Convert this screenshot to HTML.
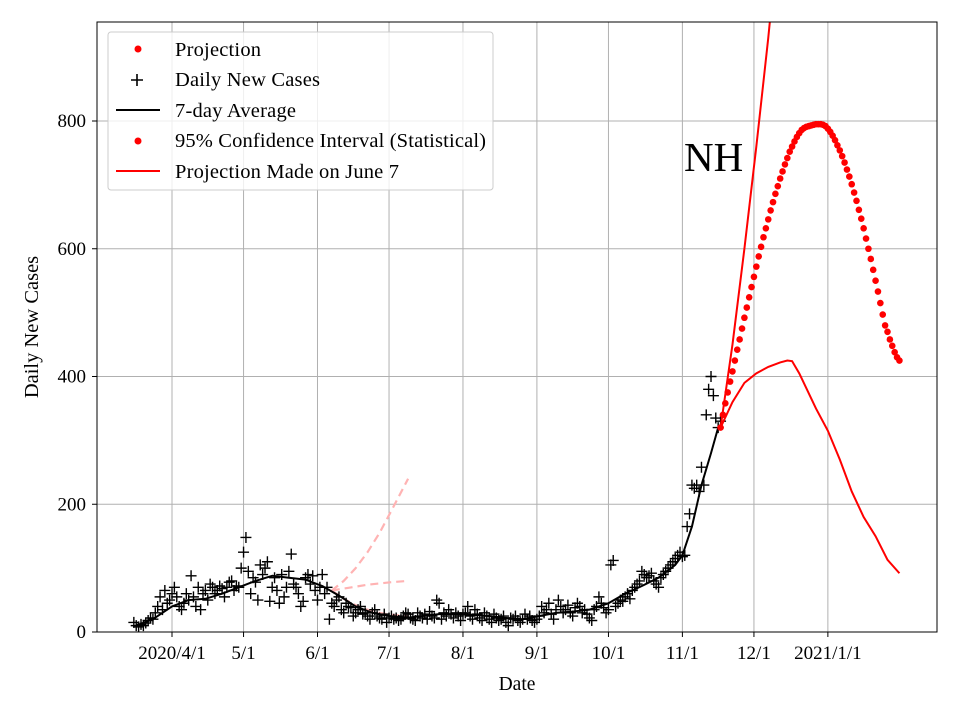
<!DOCTYPE html>
<html><head><meta charset="utf-8"><style>
html,body{margin:0;padding:0;background:#fff;}
svg{display:block;font-family:"Liberation Serif",serif;}
</style></head><body>
<svg id="chart" width="960" height="720" viewBox="0 0 960 720" xmlns="http://www.w3.org/2000/svg">
<g id="grid"></g>
<g id="marks" clip-path="url(#clip)"></g>
<defs><clipPath id="clip"><rect x="97" y="22" width="840" height="610"/></clipPath></defs>
<rect x="97" y="22" width="840" height="610" fill="none" stroke="#000" stroke-width="1"/>
<g id="axes"></g>
<text x="684" y="171" font-size="41">NH</text>
<text x="517" y="690" font-size="19.5" text-anchor="middle">Date</text>
<text transform="translate(38,327) rotate(-90)" font-size="20.5" text-anchor="middle">Daily New Cases</text>
<g>
<rect x="108" y="32" width="385" height="158" rx="3" fill="#fff" fill-opacity="0.8" stroke="#ccc"/>
<circle cx="138" cy="49" r="3.5" fill="red"/>
<text x="175" y="56" font-size="20.5" textLength="86">Projection</text>
<path d="M131 80h12M137 74v12" stroke="#000" stroke-width="1.6"/>
<text x="175" y="86" font-size="20.5" textLength="145">Daily New Cases</text>
<line x1="116" y1="110" x2="160" y2="110" stroke="#000" stroke-width="2"/>
<text x="175" y="117" font-size="20.5" textLength="121">7-day Average</text>
<circle cx="138" cy="141" r="3.5" fill="red"/>
<text x="175" y="147" font-size="20.5" textLength="311">95% Confidence Interval (Statistical)</text>
<line x1="116" y1="171" x2="160" y2="171" stroke="red" stroke-width="2"/>
<text x="175" y="178" font-size="20.5" textLength="224">Projection Made on June 7</text>
</g>
</svg>
<script>
// day index 0 = 2020/4/1
const xTickDays=[0,30,61,91,122,153,183,214,244,275];
const xTickLabels=["2020/4/1","5/1","6/1","7/1","8/1","9/1","10/1","11/1","12/1","2021/1/1"];
const yTicks=[0,200,400,600,800];
const dailyStart=-16;
const daily=[15,10,8,12,10,14,18,22,20,30,40,55,35,65,45,50,
60,70,55,40,35,45,60,50,88,55,40,70,35,60,65,50,75,70,60,65,72,68,55,70,78,80,65,72,70,100,
125,148,95,60,85,78,50,105,90,100,110,48,70,85,65,45,90,55,70,95,122,75,70,60,40,48,85,90,75,88,65,
50,70,90,60,70,20,45,40,50,55,35,30,45,40,38,25,30,35,40,28,30,25,20,30,35,25,22,20,28,15,22,
25,20,22,18,20,25,30,28,22,20,18,30,25,22,28,20,32,25,22,50,45,20,30,25,35,28,22,30,25,18,28,
30,40,25,20,35,28,22,18,30,25,20,15,28,22,18,20,25,15,10,22,20,25,18,15,20,28,20,25,18,15,20,
25,40,30,35,45,28,20,35,50,40,30,35,42,30,25,38,45,40,30,35,28,22,18,35,40,55,45,38,30,35,
105,112,40,45,50,48,55,60,52,65,70,75,80,95,90,85,88,92,80,75,70,85,90,95,100,105,110,115,120,125,118,
120,165,185,230,225,230,220,258,230,340,380,400,370,335,320,330];
const avgDays=[-15,-8,0,7,14,21,28,35,42,49,56,63,70,77,84,91,98,105,112,119,126,133,140,147,154,161,168,175,183,190,197,204,211,214,218,222,226,229];
const avgVals=[10,20,40,50,52,60,70,80,88,85,82,72,57,40,30,25,22,25,28,28,27,25,22,20,25,30,32,35,45,60,72,85,105,120,165,230,280,320];
const projStart=230;
const projection=[320,340,358,375,392,408,425,442,458,475,492,508,524,540,556,572,588,603,618,632,646,660,673,686,698,710,721,732,742,752,760,768,775,781,786,789,791,792,793,794,795,795,795,794,792,788,783,777,770,762,754,745,735,724,713,701,688,675,661,647,632,616,600,584,567,550,533,515,497,480,470,458,448,438,430,425];
const upperDays=[0,5,10,15,20,25];
const upperVals=[320,450,600,760,930,1120];
const lowerDays=[0,5,10,15,20,25,28,30,33,40,45,50,55,60,65,70,75];
const lowerVals=[320,360,390,405,415,422,425,424,405,350,315,270,220,180,150,113,92];
const pinkDays=[67,72,77,82,87,92,99];
const pinkHigh=[65,80,100,125,155,190,240];
const pinkMid=[65,68,71,74,76,78,80];
const pinkLow=[65,52,42,35,30,27,25];

const X=d=>172+d*2.385, Y=v=>632-v*0.63875;
const NS="http://www.w3.org/2000/svg";
function mk(tag,attrs,parent){const e=document.createElementNS(NS,tag);for(const k in attrs)e.setAttribute(k,attrs[k]);parent.appendChild(e);return e;}
const grid=document.getElementById('grid'),axes=document.getElementById('axes'),marks=document.getElementById('marks');
xTickDays.forEach((d,i)=>{
  const l=mk('line',{x1:X(d),x2:X(d),y1:22,y2:632,stroke:'#b0b0b0','stroke-width':1},grid);
  
  const t=mk('line',{x1:X(d),x2:X(d),y1:632,y2:637,stroke:'#000'},axes);
  
  const tx=mk('text',{x:X(d),y:659,'font-size':19,'text-anchor':'middle'},axes);tx.textContent=xTickLabels[i];
  
});
yTicks.forEach(v=>{
  const l=mk('line',{x1:97,x2:937,y1:Y(v),y2:Y(v),stroke:'#b0b0b0','stroke-width':1},grid);
  
  const t=mk('line',{x1:92,x2:97,y1:Y(v),y2:Y(v),stroke:'#000'},axes);
  
  const tx=mk('text',{x:86,y:Y(v)+6,'font-size':19,'text-anchor':'end'},axes);tx.textContent=v;
  
});
function poly(days,vals,style,name){
  const p=mk('polyline',Object.assign({points:days.map((d,i)=>X(d)+','+Y(vals[i])).join(' '),fill:'none'},style),marks);
  
}
const pd={stroke:'#ffb3b3','stroke-width':2.2,'stroke-dasharray':'8,5'};
poly(pinkDays,pinkHigh,pd,'june7-upper-dashed');
poly(pinkDays,pinkMid,pd,'june7-mid-dashed');
poly(pinkDays,pinkLow,pd,'june7-lower-dashed');
daily.forEach((v,i)=>{
  const x=X(dailyStart+i),y=Y(v);
  const p=mk('path',{d:`M${x-5.5} ${y}h11M${x} ${y-5.5}v11`,stroke:'#000','stroke-width':1.4},marks);
  
});
poly(avgDays,avgVals,{stroke:'#000','stroke-width':2,'stroke-linejoin':'round'},'seven-day-average-line');
poly(upperDays.map(d=>d+projStart),upperVals,{stroke:'red','stroke-width':2},'projection-upper-line');
poly(lowerDays.map(d=>d+projStart),lowerVals,{stroke:'red','stroke-width':2},'projection-lower-line');
projection.forEach((v,i)=>{
  const c=mk('circle',{cx:X(projStart+i),cy:Y(v),r:3.3,fill:'red'},marks);
  
});
</script>
</body></html>
